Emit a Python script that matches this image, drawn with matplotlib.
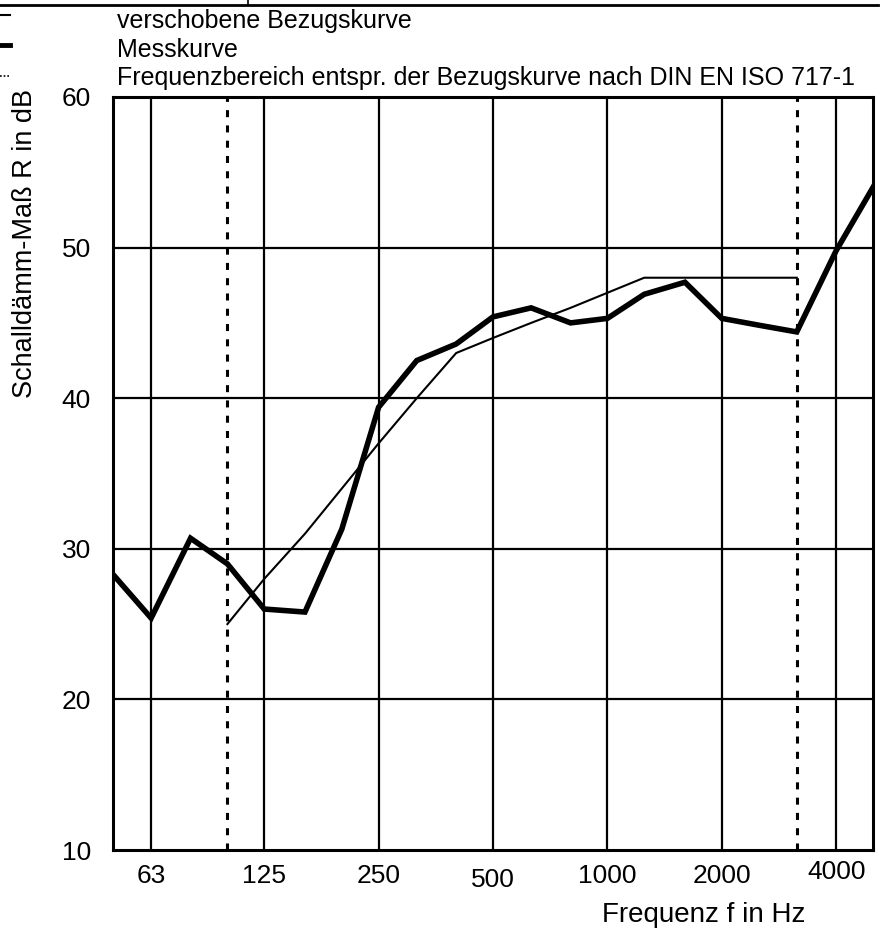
import matplotlib
matplotlib.use("Agg")
import matplotlib.pyplot as plt
from matplotlib.lines import Line2D
from matplotlib.transforms import ScaledTranslation

plt.rcParams['font.family'] = ['Liberation Sans', 'DejaVu Sans']

# Data
meas_freq = [50, 63, 80, 100, 125, 160, 200, 250, 315, 400, 500, 630, 800,
             1000, 1250, 1600, 2000, 2500, 3150, 4000, 5000]
meas_R = [28.3, 25.4, 30.7, 29.0, 26.0, 25.8, 31.3, 39.4, 42.5, 43.6, 45.4,
          46.0, 45.0, 45.3, 46.9, 47.7, 45.3, 44.85, 44.4, 49.8, 54.0]

ref_freq = [100, 125, 160, 200, 250, 315, 400, 500, 630, 800, 1000, 1250,
            1600, 2000, 2500, 3150]
ref_R = [25, 28, 31, 34, 37, 40, 43, 44, 45, 46, 47, 48, 48, 48, 48, 48]

range_freq = [100, 3150]

x_ticks = [63, 125, 250, 500, 1000, 2000, 4000]
x_ticklabels = ['63', '125', '250', '500', '1000', '2000', '4000']
y_ticks = [10, 20, 30, 40, 50, 60]

legend_labels = ['verschobene Bezugskurve', 'Messkurve',
                 'Frequenzbereich entspr. der Bezugskurve nach DIN EN ISO 717-1']

W, H = 882, 933
fig = plt.figure(figsize=(W / 100, H / 100), dpi=100)
ax = fig.add_axes([113 / W, 1 - 850 / H, (873 - 113) / W, (850 - 97) / H])

ax.set_xscale('log')
ax.set_xlim(50, 5000)
ax.set_ylim(10, 60)

# grid
for f in x_ticks:
    ax.axvline(f, color='black', lw=1.6, zorder=1)
for v in y_ticks[1:-1]:
    ax.axhline(v, color='black', lw=1.6, zorder=1)
for f in range_freq:
    ax.axvline(f, color='black', lw=2.2, linestyle=(0, (2.3, 2.7)), zorder=1)

ax.plot(ref_freq, ref_R, color='black', lw=1.5, zorder=3)
ax.plot(meas_freq, meas_R, color='black', lw=4.0, zorder=4,
        solid_joinstyle='miter')

for s in ax.spines.values():
    s.set_linewidth(2.2)
    s.set_color('black')

ax.set_xticks(x_ticks)
ax.set_xticklabels(x_ticklabels)
ax.xaxis.set_minor_locator(matplotlib.ticker.NullLocator())
ax.set_yticks(y_ticks)
ax.tick_params(axis='both', length=0, labelsize=19)
ax.tick_params(axis='x', pad=10)
ax.tick_params(axis='y', pad=16)

# small individual offsets of x tick labels
for lab in ax.get_xticklabels():
    t = lab.get_text()
    if t == '500':
        lab.set_transform(lab.get_transform() + ScaledTranslation(0, -4 / 100, fig.dpi_scale_trans))
    elif t == '4000':
        lab.set_transform(lab.get_transform() + ScaledTranslation(0, 4 / 100, fig.dpi_scale_trans))

# axis labels
fig.text(704 / W, 1 - 915 / H, 'Frequenz f in Hz', ha='center', va='center', fontsize=20)
fig.text(25 / W, 1 - 243 / H, 'Schalldämm-Maß R in dB', ha='center', va='center',
         rotation=90, fontsize=19.5)

# legend (cropped box)
fig.add_artist(Line2D([0, 878 / W], [1 - 5 / H, 1 - 5 / H], transform=fig.transFigure,
                      color='black', lw=2.0))
fig.add_artist(Line2D([248 / W, 248 / W], [1, 1 - 5 / H], transform=fig.transFigure,
                      color='black', lw=1.2))
fig.add_artist(Line2D([0, 10 / W], [1 - 15 / H, 1 - 15 / H], transform=fig.transFigure,
                      color='black', lw=1.5))
fig.add_artist(Line2D([0, 10 / W], [1 - 45 / H, 1 - 45 / H], transform=fig.transFigure,
                      color='black', lw=3.5))
fig.add_artist(Line2D([0, 10 / W], [1 - 76 / H, 1 - 76 / H], transform=fig.transFigure,
                      color='black', lw=1.2, linestyle=(0, (1, 1.2))))
for lab, base in zip(legend_labels, [28, 57, 85]):
    fig.text(117 / W, 1 - base / H, lab, ha='left', va='baseline', fontsize=18)

fig.savefig('out.png', dpi=100)
